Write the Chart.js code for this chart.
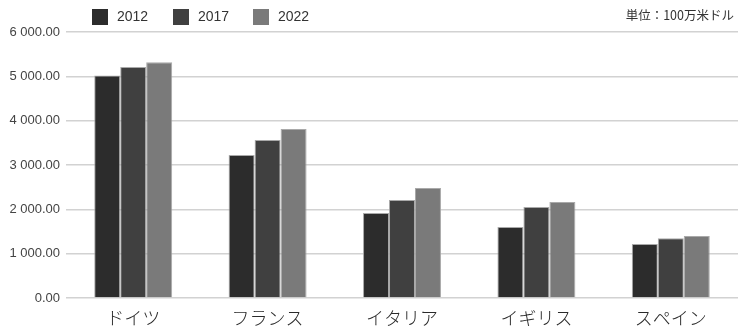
<!DOCTYPE html>
<html>
<head>
<meta charset="utf-8">
<script src="https://cdn.jsdelivr.net/npm/chart.js@4/dist/chart.umd.min.js"></script>
<style>
  html, body { margin: 0; padding: 0; background: #fff; }
  #wrap { position: relative; width: 738px; height: 329px; }
</style>
</head>
<body>
<div id="wrap"><canvas id="c" width="738" height="329"></canvas></div>
<script>
// 国別の金額（単位：100万米ドル）
const countries = ['ドイツ', 'フランス', 'イタリア', 'イギリス', 'スペイン'];
const years = ['2012', '2017', '2022'];
const values2012 = [5020, 3225, 1915, 1600, 1218];
const values2017 = [5210, 3565, 2210, 2050, 1350];
const values2022 = [5320, 3810, 2480, 2165, 1400];
const yTicks = [0, 1000, 2000, 3000, 4000, 5000, 6000];

const colors = ['#2c2c2c', '#404040', '#7a7a7a'];
const series = [values2012, values2017, values2022];

function fmt(v) {
  const s = Math.round(v).toString().replace(/\B(?=(\d{3})+(?!\d))/g, ' ');
  return s + '.00';
}

// 凡例と単位表記
const headerPlugin = {
  id: 'header',
  afterDraw(chart) {
    const ctx = chart.ctx;
    ctx.save();
    const xs = [92, 173, 253];
    chart.data.datasets.forEach((ds, i) => {
      ctx.fillStyle = ds.backgroundColor;
      ctx.fillRect(xs[i], 9, 16, 16);
      ctx.fillStyle = '#333';
      ctx.font = '14px "Liberation Sans", Arial, sans-serif';
      ctx.textBaseline = 'middle';
      ctx.textAlign = 'left';
      ctx.fillText(ds.label, xs[i] + 25, 17);
    });
    ctx.font = '12.5px "Noto Sans CJK JP", sans-serif';
    ctx.fillStyle = '#333';
    ctx.textAlign = 'right';
    ctx.fillText('単位：100万米ドル', 734, 15);
    ctx.restore();
  }
};

new Chart(document.getElementById('c'), {
  type: 'bar',
  data: {
    labels: countries,
    datasets: years.map((y, i) => ({
      label: y,
      data: series[i],
      backgroundColor: colors[i],
      borderColor: 'rgba(160,160,160,0.9)',
      borderWidth: 1,
      categoryPercentage: 0.58,
      barPercentage: 1.0
    }))
  },
  options: {
    responsive: false,
    animation: false,
    layout: { padding: { top: 32, right: 0, left: 0, bottom: 0 } },
    plugins: {
      legend: { display: false },
      tooltip: { enabled: false }
    },
    scales: {
      x: {
        grid: { display: false, drawTicks: false },
        border: { display: false },
        ticks: {
          color: '#2a2a2a',
          padding: 9,
          font: { family: '"Noto Sans CJK JP", sans-serif', size: 18, weight: '300' }
        },
        afterFit(scale) { scale.height = 31; }
      },
      y: {
        min: 0,
        max: 6000,
        afterBuildTicks(scale) { scale.ticks = yTicks.map(v => ({ value: v })); },
        grid: { color: '#d2d2d2', lineWidth: 1.5, drawTicks: false },
        border: { display: false },
        ticks: {
          color: '#444',
          padding: 6,
          font: { family: '"Liberation Sans", Arial, sans-serif', size: 13 },
          callback: v => fmt(v)
        },
        afterFit(scale) { scale.width = 66; }
      }
    }
  },
  plugins: [headerPlugin]
});
</script>
</body>
</html>
